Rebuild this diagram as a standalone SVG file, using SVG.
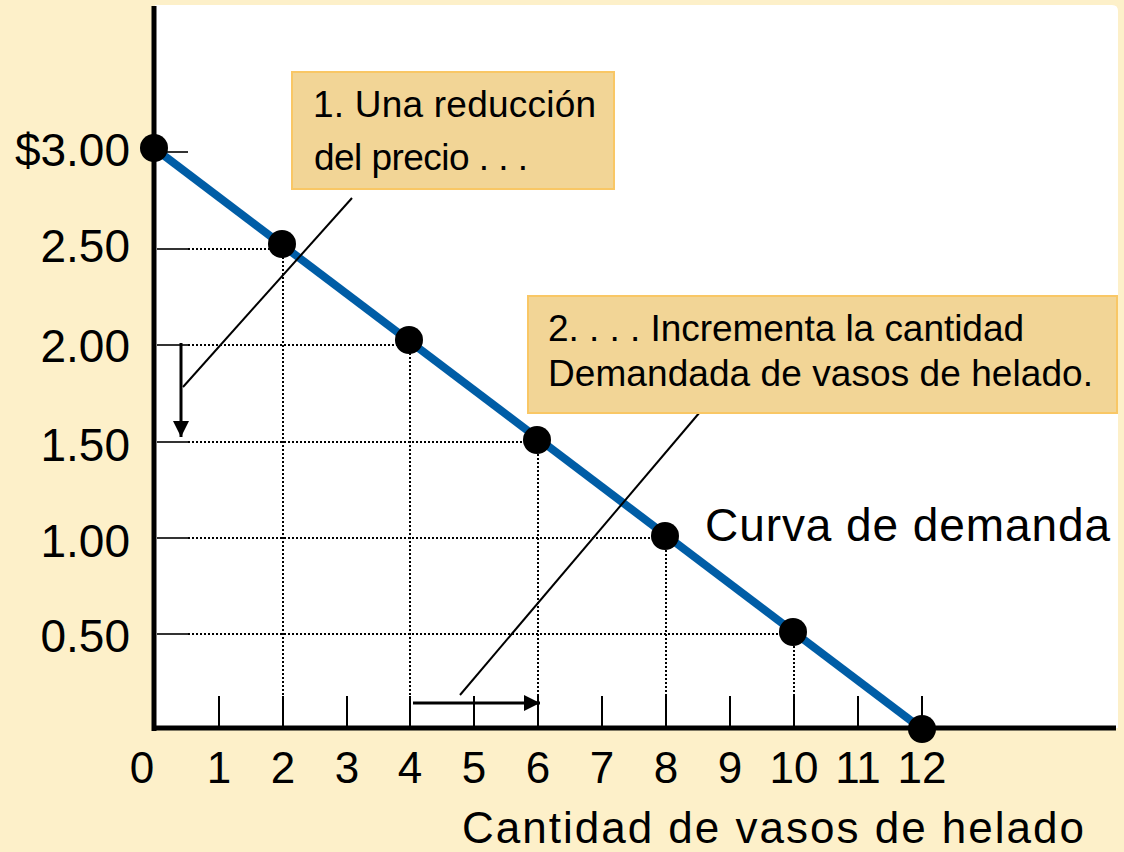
<svg xmlns="http://www.w3.org/2000/svg" width="1124" height="852" viewBox="0 0 1124 852">
<defs>
<style>
text{font-family:"Liberation Sans",Arial,sans-serif;fill:#000}
.lab{font-size:46px;text-anchor:end}
.xl{font-size:44px;text-anchor:middle}
.box{fill:#F2D596;stroke:#F9C765;stroke-width:2}
.bt{font-size:37px}
.grid{stroke:#000;stroke-width:2;stroke-dasharray:2 2;fill:none}
.tick{stroke:#000;stroke-width:2}
.ytick{stroke:#333;stroke-width:2}
.lead{stroke:#000;stroke-width:2;fill:none}
.dot{fill:#000}
</style>
<marker id="ah" viewBox="0 0 10 10" refX="10" refY="5" markerWidth="5.5" markerHeight="5.5" markerUnits="strokeWidth" orient="auto">
<path d="M0,0 L10,5 L0,10 Z" fill="#000"/>
</marker>
</defs>
<rect width="1124" height="852" fill="#FDF0C9"/>
<path d="M155,5 H1112 Q1118,5 1118,11 V728 H155 Z" fill="#FFFFFF"/>
<g id="grid">
<line class="ytick" x1="157" y1="152" x2="188" y2="152"/>
<line class="ytick" x1="157" y1="249" x2="188" y2="249"/>
<line class="ytick" x1="157" y1="345" x2="188" y2="345"/>
<line class="ytick" x1="157" y1="442" x2="188" y2="442"/>
<line class="ytick" x1="157" y1="538" x2="188" y2="538"/>
<line class="ytick" x1="157" y1="634" x2="188" y2="634"/>
<path class="grid" d="M188,249 H282 M188,345 H409 M188,442 H537 M188,538 H665 M188,634 H793"/>
<path class="grid" d="M283,249 V727 M410,345 V727 M538,442 V727 M666,538 V727 M794,634 V727"/>
</g>
<g id="xticks">
<line class="tick" x1="219" y1="696" x2="219" y2="727"/>
<line class="tick" x1="283" y1="696" x2="283" y2="727"/>
<line class="tick" x1="347" y1="696" x2="347" y2="727"/>
<line class="tick" x1="410" y1="696" x2="410" y2="727"/>
<line class="tick" x1="474" y1="696" x2="474" y2="727"/>
<line class="tick" x1="538" y1="696" x2="538" y2="727"/>
<line class="tick" x1="602" y1="696" x2="602" y2="727"/>
<line class="tick" x1="666" y1="696" x2="666" y2="727"/>
<line class="tick" x1="730" y1="696" x2="730" y2="727"/>
<line class="tick" x1="794" y1="696" x2="794" y2="727"/>
<line class="tick" x1="858" y1="696" x2="858" y2="727"/>
<line class="tick" x1="922" y1="696" x2="922" y2="727"/>
</g>
<g id="axes">
<line x1="154" y1="6" x2="154" y2="731" stroke="#000" stroke-width="5"/>
<line x1="152" y1="728" x2="1116" y2="728" stroke="#000" stroke-width="5"/>
</g>
<g id="demand-curve">
<line x1="154" y1="148" x2="922" y2="729" stroke="#005DA6" stroke-width="8"/>
<circle class="dot" cx="154" cy="148" r="14"/>
<circle class="dot" cx="282" cy="244" r="14"/>
<circle class="dot" cx="409" cy="340" r="14"/>
<circle class="dot" cx="537" cy="440" r="14"/>
<circle class="dot" cx="665" cy="536" r="14"/>
<circle class="dot" cx="793" cy="632" r="14"/>
<circle class="dot" cx="922" cy="729" r="14"/>
</g>
<g id="y-labels">
<text class="lab" x="130" y="166">$3.00</text>
<text class="lab" x="130" y="262">2.50</text>
<text class="lab" x="130" y="362">2.00</text>
<text class="lab" x="130" y="461">1.50</text>
<text class="lab" x="130" y="557">1.00</text>
<text class="lab" x="130" y="652">0.50</text>
</g>
<g id="x-labels">
<text class="xl" x="142" y="783">0</text>
<text class="xl" x="219" y="783">1</text>
<text class="xl" x="283" y="783">2</text>
<text class="xl" x="347" y="783">3</text>
<text class="xl" x="410" y="783">4</text>
<text class="xl" x="474" y="783">5</text>
<text class="xl" x="538" y="783">6</text>
<text class="xl" x="602" y="783">7</text>
<text class="xl" x="666" y="783">8</text>
<text class="xl" x="730" y="783">9</text>
<text class="xl" x="794" y="783">10</text>
<text class="xl" x="858" y="783">11</text>
<text class="xl" x="922" y="783">12</text>
</g>
<g id="connectors">
<line class="lead" x1="352" y1="198" x2="183" y2="387"/>
<line class="lead" x1="700" y1="412" x2="460" y2="695"/>
<line x1="181" y1="343" x2="181" y2="437" stroke="#000" stroke-width="3" marker-end="url(#ah)"/>
<line x1="413" y1="703" x2="540" y2="703" stroke="#000" stroke-width="3" marker-end="url(#ah)"/>
</g>
<g id="note1">
<rect class="box" x="292" y="72" width="322" height="117"/>
<text class="bt" x="313" y="117" textLength="283">1. Una reducción</text>
<text class="bt" x="314" y="170" textLength="214">del precio . . .</text>
</g>
<g id="note2">
<rect class="box" x="528" y="296" width="589" height="117"/>
<text class="bt" x="548" y="341" textLength="476">2. . . . Incrementa la cantidad</text>
<text class="bt" x="548" y="386" textLength="545">Demandada de vasos de helado.</text>
</g>
<g id="curve-label">
<text x="705" y="541" font-size="46" textLength="405">Curva de demanda</text>
</g>
<g id="axis-title">
<text x="462" y="843" font-size="44" textLength="622">Cantidad de vasos de helado</text>
</g>
</svg>
